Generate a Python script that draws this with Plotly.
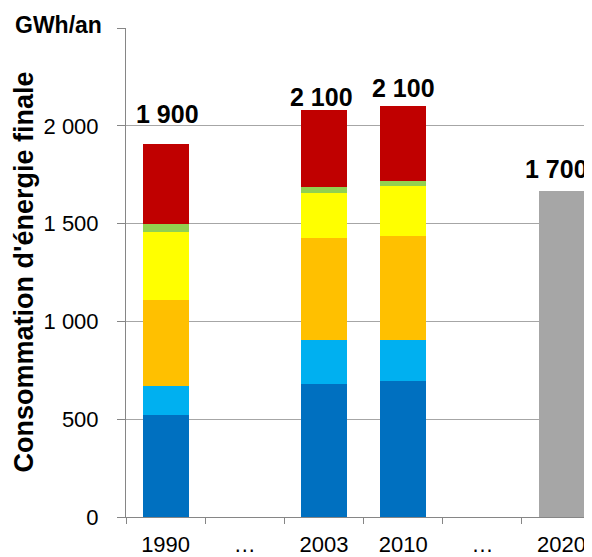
import plotly.graph_objects as go

categories = ["1990", "…a", "2003", "2010", "…b", "2020"]
tick_text = ["1990", "…", "2003", "2010", "…", "2020"]

# stacked segments (GWh/an), bottom to top
seg_dark_blue = [522, None, 681, 693, None, None]
seg_light_blue = [150, None, 224, 212, None, None]
seg_orange = [438, None, 520, 532, None, None]
seg_yellow = [348, None, 229, 257, None, None]
seg_green = [39, None, 33, 26, None, None]
seg_red = [409, None, 396, 383, None, None]
objective_2020 = [None, None, None, None, None, 1668]

total_labels = ["1 900", None, "2 100", "2 100", None, "1 700"]

series = [
    ("Série 1", seg_dark_blue, "#0070C0"),
    ("Série 2", seg_light_blue, "#00B0F0"),
    ("Série 3", seg_orange, "#FFC000"),
    ("Série 4", seg_yellow, "#FFFF00"),
    ("Série 5", seg_green, "#92D050"),
    ("Série 6", seg_red, "#C00000"),
    ("Objectif 2020", objective_2020, "#A6A6A6"),
]

fig = go.Figure()
for name, vals, col in series:
    fig.add_trace(go.Bar(x=categories, y=vals, name=name, marker_color=col,
                         marker_line_width=0, width=0.58, showlegend=False))

# label offsets (pixels)
label_yshift = [14, 0, -3, 2, 0, 6]
label_xshift = [2, 0, -2, 0, 0, -5]
for i, lab in enumerate(total_labels):
    if lab is None:
        continue
    tot = sum((s[1][i] or 0) for s in series)
    fig.add_annotation(x=i, y=tot, xref="x", yref="y", text="<b>" + lab + "</b>",
                       showarrow=False,
                       yanchor="bottom", yshift=label_yshift[i], xshift=label_xshift[i],
                       font=dict(family="Liberation Sans, Arial", size=25, color="#000000"))

fig.add_annotation(xref="paper", yref="paper", x=0, y=1, text="<b>GWh/an</b>",
                   showarrow=False, xanchor="right", yanchor="middle",
                   xshift=-22, yshift=3,
                   font=dict(family="Liberation Sans, Arial", size=23, color="#000000"))
fig.add_annotation(xref="paper", yref="paper", x=0, y=0.5,
                   text="<b>Consommation d'énergie finale</b>", textangle=-90,
                   showarrow=False, xanchor="center", yanchor="middle", xshift=-103,
                   font=dict(family="Liberation Sans, Arial", size=27, color="#000000"))

# page body has an 8px margin: plot area sits at x 126..601, y 28..517 in the window
fig.update_layout(
    width=592, height=557,
    margin=dict(l=118, r=0, t=20, b=48, autoexpand=False),
    barmode="stack",
    plot_bgcolor="#FFFFFF", paper_bgcolor="#FFFFFF",
    font=dict(family="Liberation Sans, Arial", size=22, color="#000000"),
)
fig.update_xaxes(
    type="category", categoryorder="array", categoryarray=categories,
    tickmode="array", tickvals=categories, ticktext=tick_text,
    range=[-0.5, 5.485], tickson="boundaries", automargin=False,
    ticks="outside", ticklen=6, tickcolor="#868686", ticklabelstandoff=8,
    showline=True, linecolor="#868686", linewidth=1,
    showgrid=False, zeroline=False,
    tickfont=dict(size=22),
)
fig.update_yaxes(
    range=[0, 2500], tickvals=[0, 500, 1000, 1500, 2000, 2500],
    ticktext=["0", "500", "1 000", "1 500", "2 000", ""], automargin=False,
    ticks="outside", ticklen=8, tickcolor="#868686", ticklabelstandoff=14,
    showline=True, linecolor="#868686", linewidth=1,
    showgrid=True, gridcolor="#A6A6A6", gridwidth=1, zeroline=False,
    tickfont=dict(size=22),
)

fig.write_html("out.html")
